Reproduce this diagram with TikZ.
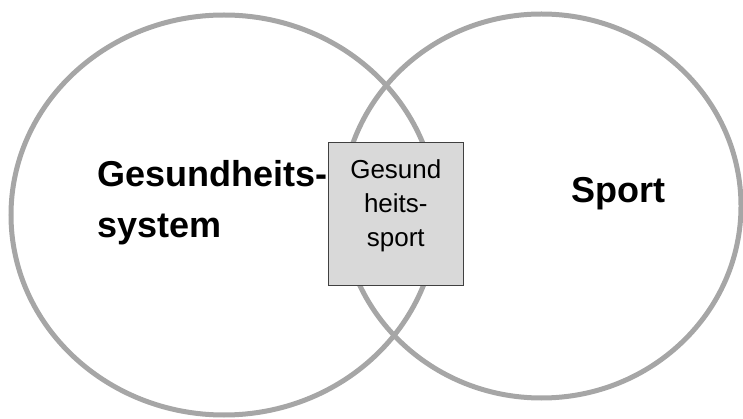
\documentclass[tikz,border=0pt]{standalone}
\usepackage{fontspec}
\setmainfont{Liberation Sans}
\definecolor{ringgray}{HTML}{A6A6A6}
\definecolor{boxfill}{HTML}{D9D9D9}
\definecolor{boxline}{HTML}{404040}
\begin{document}
\begin{tikzpicture}[x=1pt,y=-1pt,
  ring/.style={draw=ringgray,line width=5pt},
  biglabel/.style={font=\bfseries\fontsize{36}{51}\selectfont,align=left,inner sep=0pt},
  smalllabel/.style={font=\fontsize{26}{34}\selectfont,align=center,inner sep=0pt},
  overlapbox/.style={draw=boxline,fill=boxfill,line width=1.2pt,inner sep=0pt}]
\useasboundingbox (0,0) rectangle (743,419);
\draw[ring] (224,215) ellipse [x radius=213, y radius=200];
\draw[ring] (541.5,206) ellipse [x radius=199.5, y radius=192];
\node[biglabel,anchor=base west] (sys) at (97,238) {Gesundheits-\\system};
\node[biglabel,anchor=base west] (sport) at (571,203) {Sport};
\node[overlapbox,minimum width=135,minimum height=143] (hs) at (395.8,214.3) {};
\node[smalllabel,anchor=base] (hstext) at (395.8,246.7) {Gesund\\heits-\\sport};
\end{tikzpicture}
\end{document}
